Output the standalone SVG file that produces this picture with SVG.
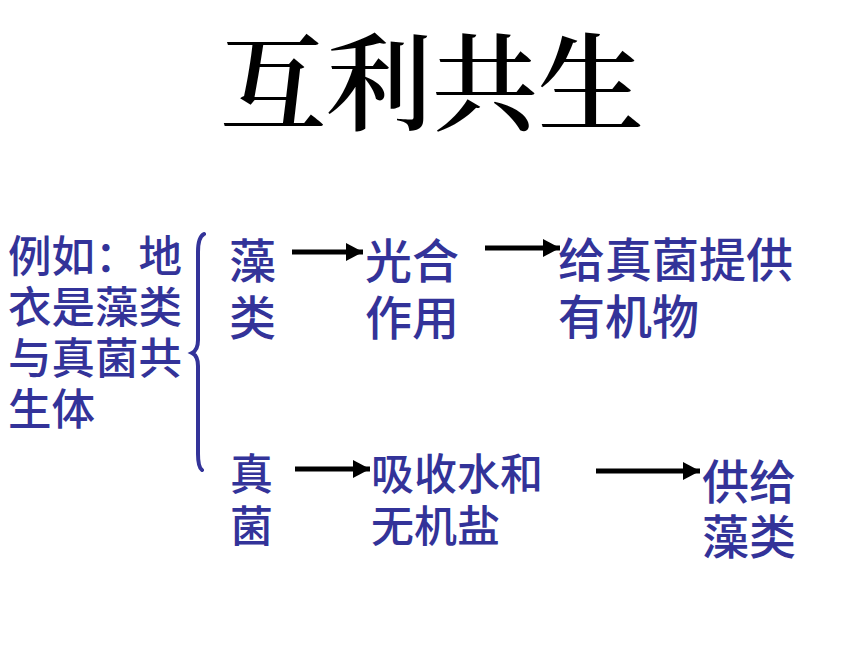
<svg xmlns="http://www.w3.org/2000/svg" width="860" height="645" viewBox="0 0 860 645">
<style>
.title{font-family:"Noto Serif CJK SC","Noto Sans CJK SC",serif;font-size:106px;fill:#000;font-weight:600}
.b{font-family:"Noto Sans CJK SC",sans-serif;fill:#333399;font-weight:500}
.s42{font-size:43px}
.s43{font-size:43.5px}
.s46{font-size:47px}
.arr{stroke:#000;stroke-width:5;fill:none}
.brace{stroke:#333399;stroke-width:4;fill:none;stroke-linecap:round}
</style>
<defs>
<marker id="ah" markerUnits="userSpaceOnUse" markerWidth="18" markerHeight="20" refX="17" refY="10" orient="auto">
<path d="M0,1 L17,10 L0,19 Z" fill="#000"/>
</marker>
</defs>
<rect width="860" height="645" fill="#fff"/>
<g id="title"><text class="title" x="220" y="122">互利共生</text></g>
<g id="example">
<text class="b s43" x="8" y="272">例如：地</text>
<text class="b s43" x="8" y="323">衣是藻类</text>
<text class="b s43" x="8" y="374">与真菌共</text>
<text class="b s43" x="8" y="425">生体</text>
</g>
<g id="brace"><path class="brace" d="M204 234 Q198 237 198 252 L198 340 Q198 350 192 353 Q198 356 198 366 L198 454 Q198 467 202 470"/></g>
<g id="algae">
<text class="b s46" x="229" y="278">藻</text>
<text class="b s46" x="229" y="335">类</text>
</g>
<g id="photosynthesis">
<text class="b s46" x="365" y="278">光合</text>
<text class="b s46" x="365" y="335">作用</text>
</g>
<g id="provide-organic">
<text class="b s46" x="558" y="277">给真菌提供</text>
<text class="b s46" x="558" y="334">有机物</text>
</g>
<g id="fungus">
<text class="b s42" x="230" y="490">真</text>
<text class="b s42" x="230" y="542">菌</text>
</g>
<g id="absorb">
<text class="b s42" x="371" y="490">吸收水和</text>
<text class="b s42" x="371" y="542">无机盐</text>
</g>
<g id="supply-algae">
<text class="b s46" x="702" y="499">供给</text>
<text class="b s46" x="702" y="554">藻类</text>
</g>
<g id="connectors">
<line class="arr" x1="292" y1="252" x2="363" y2="252" marker-end="url(#ah)"/>
<line class="arr" x1="485" y1="248" x2="560" y2="248" marker-end="url(#ah)"/>
<line class="arr" x1="295" y1="469" x2="370" y2="469" marker-end="url(#ah)"/>
<line class="arr" x1="596" y1="471" x2="700" y2="471" marker-end="url(#ah)"/>
</g>
</svg>
